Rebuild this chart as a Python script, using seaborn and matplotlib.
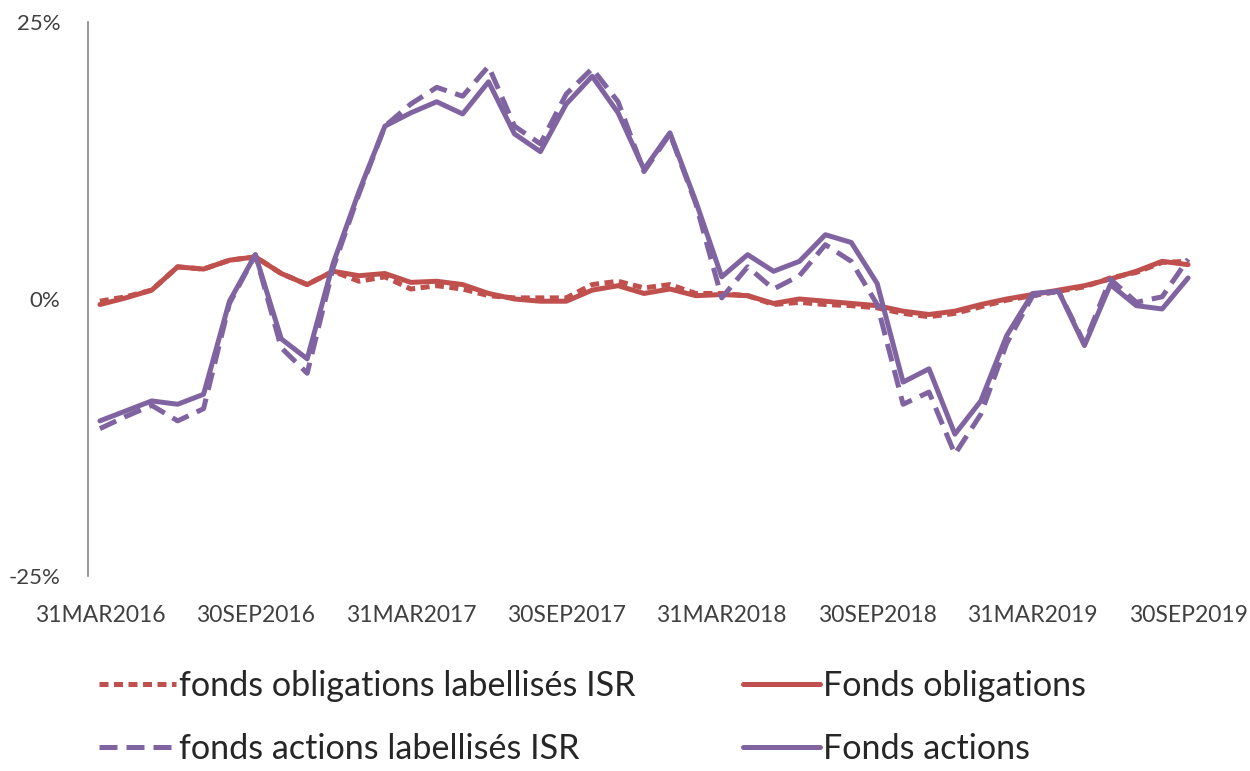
import numpy as np
import pandas as pd
import matplotlib
matplotlib.use("Agg")
import matplotlib.pyplot as plt
from matplotlib.lines import Line2D
import seaborn as sns

# ---------------------------------------------------------------------------
# DATA (monthly performance, %)
# ---------------------------------------------------------------------------
months = pd.date_range("2016-03-31", "2019-09-30", freq="ME")
month_labels = [d.strftime("%d%b%Y").upper() for d in months]

oblig_isr = [-0.2, 0.2, 0.8, 2.9, 2.7, 3.5, 3.8, 2.3, 1.3, 2.5,
             1.6, 2.0, 0.9, 1.2, 0.9, 0.3, 0.1, 0.1, 0.1, 1.3,
             1.6, 1.0, 1.3, 0.5, 0.5, 0.3, -0.5, -0.3, -0.5, -0.6,
             -0.8, -1.3, -1.6, -1.3, -0.7, -0.1, 0.3, 0.7, 1.1, 1.9,
             2.4, 3.3, 3.4]
oblig = [-0.5, 0.1, 0.8, 2.9, 2.7, 3.5, 3.8, 2.3, 1.3, 2.5,
         2.1, 2.3, 1.5, 1.6, 1.3, 0.5, 0.0, -0.2, -0.2, 0.8,
         1.2, 0.5, 0.9, 0.3, 0.4, 0.3, -0.4, 0.0, -0.2, -0.4,
         -0.6, -1.1, -1.4, -1.1, -0.5, 0.0, 0.4, 0.8, 1.2, 1.8,
         2.5, 3.4, 3.1]
actions_isr = [-11.7, -10.6, -9.6, -11.0, -9.9, -0.4, 4.0, -4.4, -6.7, 2.8,
               9.5, 15.6, 17.6, 19.1, 18.3, 21.0, 15.6, 14.0, 18.5, 20.8,
               17.8, 11.5, 14.9, 8.6, 0.1, 2.9, 0.9, 2.1, 4.9, 3.4,
               -0.5, -9.5, -8.4, -14.0, -10.4, -4.0, 0.3, 0.7, -4.0, 1.8,
               -0.3, 0.2, 3.6]
actions = [-11.0, -10.1, -9.2, -9.5, -8.6, -0.2, 4.0, -3.6, -5.4, 3.2,
           9.7, 15.6, 16.8, 17.8, 16.7, 19.6, 14.9, 13.3, 17.6, 20.1,
           16.8, 11.7, 15.0, 8.8, 2.0, 4.0, 2.5, 3.4, 5.8, 5.1,
           1.4, -7.5, -6.3, -12.2, -9.2, -3.3, 0.5, 0.7, -4.2, 1.3,
           -0.6, -0.9, 1.9]

series_names = ["fonds obligations labellisés ISR", "Fonds obligations",
                "fonds actions labellisés ISR", "Fonds actions"]
series_values = [oblig_isr, oblig, actions_isr, actions]

RED = "#C0504D"
PURPLE = "#8064A2"
palette = {series_names[0]: RED, series_names[1]: RED,
           series_names[2]: PURPLE, series_names[3]: PURPLE}
dashes = {series_names[0]: (1.8, 1.1), series_names[1]: "",
          series_names[2]: (3.6, 1.8), series_names[3]: ""}

df = pd.concat([
    pd.DataFrame({"pos": np.arange(len(months)), "mois": month_labels,
                  "valeur": vals, "serie": name})
    for name, vals in zip(series_names, series_values)
], ignore_index=True)

# ---------------------------------------------------------------------------
# PLOT
# ---------------------------------------------------------------------------
sns.set_style("white")
plt.rcParams["font.family"] = ["Lato", "DejaVu Sans"]

fig = plt.figure(figsize=(12.5, 7.71), dpi=100)
ax = fig.add_axes([0.0704, 0.2529, 0.8896, 0.7186])

sns.lineplot(data=df, x="pos", y="valeur", hue="serie", style="serie",
             hue_order=series_names, style_order=series_names,
             palette=palette, dashes=dashes, linewidth=3.6,
             legend=False, ax=ax)

ax.set_xlim(-0.46, len(months) - 1 + 0.46)
ax.set_ylim(-25, 25)
ax.set_yticks([-25, 0, 25])
ax.set_yticklabels(["-25%", "0%", "25%"])
tick_pos = np.arange(0, len(months), 6)
ax.set_xticks(tick_pos)
ax.set_xticklabels([month_labels[i] for i in tick_pos])
ax.set_xlabel("")
ax.set_ylabel("")

for s in ["top", "right", "bottom"]:
    ax.spines[s].set_visible(False)
ax.spines["left"].set_color("#868686")
ax.spines["left"].set_linewidth(1.2)
ax.tick_params(axis="y", length=7, width=1.2, color="#868686",
               labelsize=16, labelcolor="#404040", pad=13)
ax.tick_params(axis="x", length=0, labelsize=16.5, labelcolor="#404040", pad=21)
ax.grid(False)

handles = [
    Line2D([], [], color=RED, lw=3.6, dashes=dashes[series_names[0]]),
    Line2D([], [], color=PURPLE, lw=3.6, dashes=dashes[series_names[2]]),
    Line2D([], [], color=RED, lw=3.6),
    Line2D([], [], color=PURPLE, lw=3.6),
]
labels = [series_names[0], series_names[2], series_names[1], series_names[3]]
fig.legend(handles, labels, ncol=2, loc="upper left",
           bbox_to_anchor=(0.079, 0.131), frameon=False, fontsize=24.6,
           handlelength=2.25, handletextpad=0.1, columnspacing=3.15,
           labelspacing=0.92, borderaxespad=0, borderpad=0)

fig.savefig("out.png", dpi=100)
